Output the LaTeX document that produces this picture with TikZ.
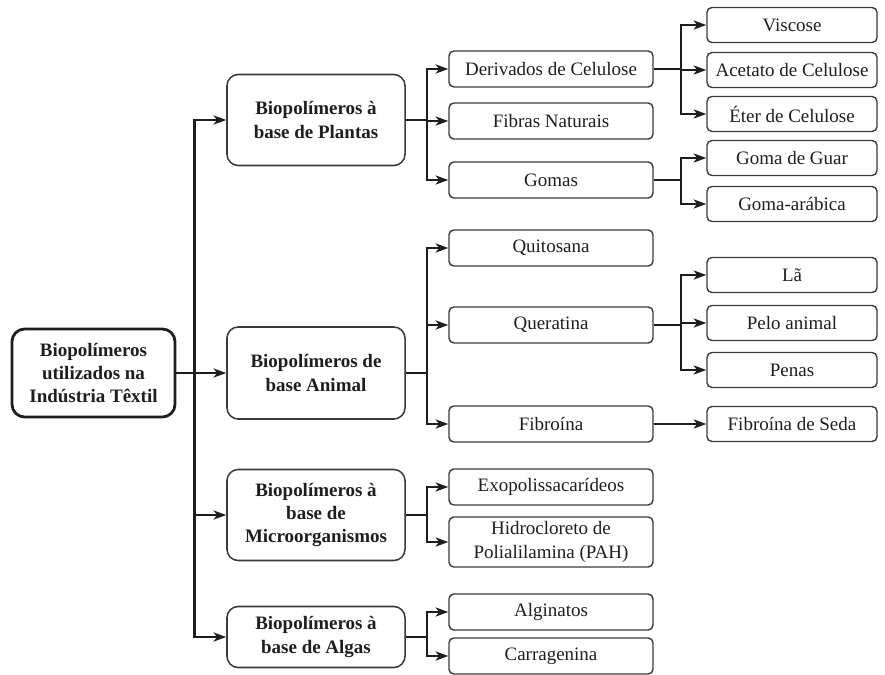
\documentclass[tikz,border=0pt]{standalone}
\usepackage{fontspec}
\setmainfont{Liberation Serif}
\usetikzlibrary{arrows.meta}
\definecolor{inkdark}{HTML}{1E1E1E}
\definecolor{inkline}{HTML}{3A3A3A}
\tikzset{
  rootbox/.style={draw=inkdark, line width=2pt, rounded corners=9pt,
        align=center, text=inkdark, font=\fontsize{13.5}{16.5}\selectfont\bfseries,
        minimum width=4.075cm, minimum height=2.2cm},
  groupbox/.style={draw=inkline, line width=1.1pt, rounded corners=8pt,
        align=center, text=inkdark, font=\fontsize{13.5}{16.5}\selectfont\bfseries,
        minimum width=4.45cm, minimum height=2.275cm},
  itembox/.style={draw=inkline, line width=1pt, rounded corners=3.5pt,
        align=center, text=inkdark, font=\fontsize{13.5}{16.5}\selectfont,
        minimum width=5.1cm, minimum height=0.9cm, inner sep=1pt},
  leafbox/.style={itembox, minimum width=4.25cm, minimum height=0.875cm},
  link/.style={draw=inkdark, line width=1.6pt,
        -{Stealth[length=9pt,width=6.5pt,inset=2.5pt]}}
}
\begin{document}
\begin{tikzpicture}[x=0.025cm, y=-0.025cm]
  \useasboundingbox (0,0) rectangle (885,675);
  % root and groups
  \node[rootbox] (root) at (93.5,373) {Biopolímeros\\utilizados na\\Indústria Têxtil};
  \node[groupbox] (plantas) at (316,120) {Biopolímeros à\\base de Plantas};
  \node[groupbox, minimum height=2.3cm] (animal) at (316,373) {Biopolímeros de\\base Animal};
  \node[groupbox] (micro) at (316,515) {Biopolímeros à\\base de\\Microorganismos};
  \node[groupbox, minimum height=1.525cm] (algas) at (316,637) {Biopolímeros à\\base de Algas};
  % second level
  \node[itembox] (derivados) at (551,69) {Derivados de Celulose};
  \node[itembox] (fibras) at (551,121) {Fibras Naturais};
  \node[itembox] (gomas) at (551,180) {Gomas};
  \node[itembox] (quitosana) at (551,248) {Quitosana};
  \node[itembox] (queratina) at (551,325) {Queratina};
  \node[itembox] (fibroina) at (551,424) {Fibroína};
  \node[itembox] (exopoli) at (551,487) {Exopolissacarídeos};
  \node[itembox, minimum height=1.25cm] (pah) at (551,542) {Hidrocloreto de\\Polialilamina (PAH)};
  \node[itembox] (alginatos) at (551,612) {Alginatos};
  \node[itembox] (carragenina) at (551,656) {Carragenina};
  % third level
  \node[leafbox] (viscose) at (792,25) {Viscose};
  \node[leafbox] (acetato) at (792,70) {Acetato de Celulose};
  \node[leafbox] (eter) at (792,114) {Éter de Celulose};
  \node[leafbox] (guar) at (792,158) {Goma de Guar};
  \node[leafbox] (arabica) at (792,204) {Goma-arábica};
  \node[leafbox] (la) at (792,275) {Lã};
  \node[leafbox] (pelo) at (792,323) {Pelo animal};
  \node[leafbox] (penas) at (792,370) {Penas};
  \node[leafbox] (seda) at (792,424) {Fibroína de Seda};
  % connectors
  \draw[link] (root) -- (animal);
  \foreach \g in {plantas,micro,algas}
    \draw[link] (root.east) -- ++(18,0) |- (\g.west);
  \foreach \c in {derivados,fibras,gomas}
    \draw[link] (plantas.east) -- ++(21,0) |- (\c.west);
  \foreach \c in {quitosana,queratina,fibroina}
    \draw[link] (animal.east) -- ++(21,0) |- (\c.west);
  \foreach \c in {exopoli,pah}
    \draw[link] (micro.east) -- ++(21,0) |- (\c.west);
  \foreach \c in {alginatos,carragenina}
    \draw[link] (algas.east) -- ++(21,0) |- (\c.west);
  \foreach \c in {viscose,acetato,eter}
    \draw[link] (derivados.east) -- ++(27,0) |- (\c.west);
  \foreach \c in {guar,arabica}
    \draw[link] (gomas.east) -- ++(27,0) |- (\c.west);
  \foreach \c in {la,pelo,penas}
    \draw[link] (queratina.east) -- ++(27,0) |- (\c.west);
  \draw[link] (fibroina) -- (seda);
\end{tikzpicture}
\end{document}
